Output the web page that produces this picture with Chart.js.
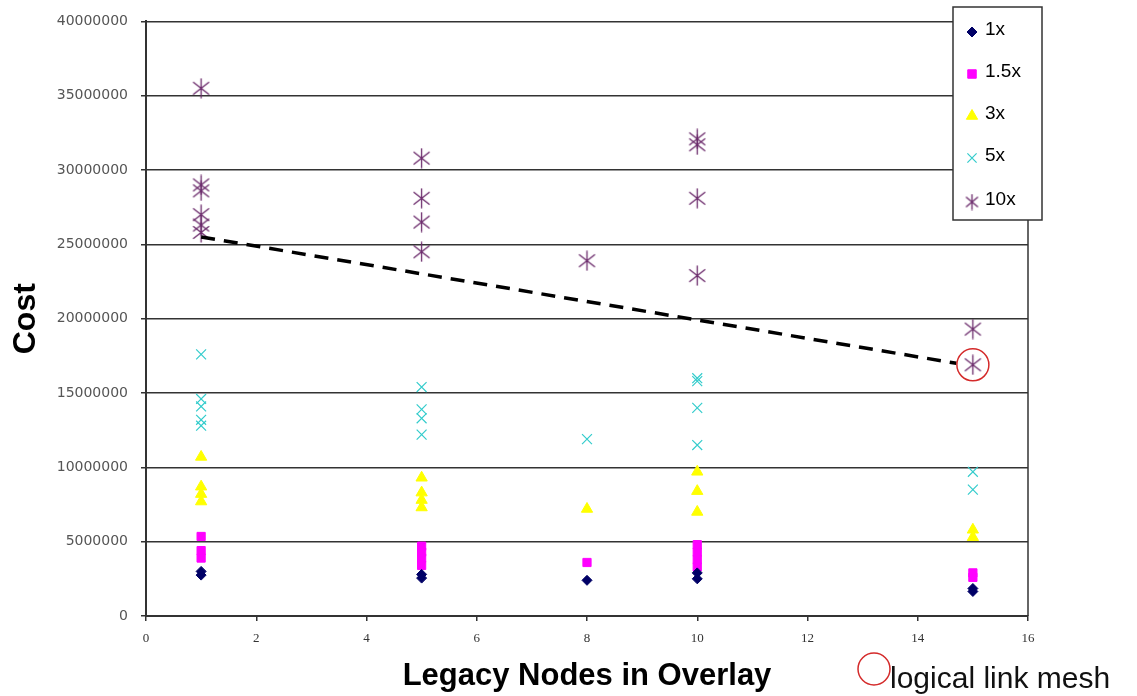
<!DOCTYPE html>
<html><head><meta charset="utf-8">
<script src="https://cdn.jsdelivr.net/npm/chart.js@4.4.0/dist/chart.umd.min.js"></script>
<style>html,body{margin:0;padding:0;background:#fff;}</style>
</head><body>
<canvas id="c" width="1137" height="696" style="width:1137px;height:696px;display:block"></canvas>
<script>
// ---- data ----
const seriesNames = ['1x', '1.5x', '3x', '5x', '10x'];
const xTickLabels = ['0','2','4','6','8','10','12','14','16'];
const yTickLabels = ['0','5000000','10000000','15000000','20000000','25000000','30000000','35000000','40000000'];

const x1 = [1, 1, 5, 5, 8, 10, 10, 15, 15];
const y1 = [3.0e6, 2.75e6, 2.8e6, 2.55e6, 2.4e6, 2.9e6, 2.5e6, 1.85e6, 1.65e6];

const x15 = [1, 1, 1, 5, 5, 5, 5, 8, 10, 10, 10, 10, 15, 15];
const y15 = [5.35e6, 4.4e6, 3.9e6, 4.7e6, 4.3e6, 3.9e6, 3.4e6, 3.6e6, 4.8e6, 4.3e6, 3.8e6, 3.3e6, 2.9e6, 2.6e6];

const x3 = [1, 1, 1, 1, 5, 5, 5, 5, 8, 10, 10, 10, 15, 15];
const y3 = [10.7e6, 8.7e6, 8.2e6, 7.7e6, 9.3e6, 8.3e6, 7.8e6, 7.3e6, 7.2e6, 9.7e6, 8.4e6, 7.0e6, 5.8e6, 5.3e6];

const x5 = [1, 1, 1, 1, 1, 5, 5, 5, 5, 8, 10, 10, 10, 10, 15, 15];
const y5 = [17.6e6, 14.6e6, 14.1e6, 13.2e6, 12.8e6, 15.4e6, 13.9e6, 13.3e6, 12.2e6, 11.9e6, 16.0e6, 15.8e6, 14.0e6, 11.5e6, 9.7e6, 8.5e6];

const x10 = [1, 1, 1, 1, 1, 1, 5, 5, 5, 5, 8, 10, 10, 10, 10, 15, 15];
const y10 = [35.5e6, 29.0e6, 28.6e6, 27.0e6, 26.3e6, 25.8e6, 30.8e6, 28.1e6, 26.5e6, 24.5e6, 23.9e6, 32.1e6, 31.7e6, 28.1e6, 22.9e6, 19.3e6, 16.9e6];

const trendX = [1, 14.7];
const trendY = [25.5e6, 17.0e6];

const circledX = [15];
const circledY = [16.9e6];

const noteText = 'logical link mesh';

// ---- helpers ----
const pts = (xs, ys) => xs.map((x, i) => ({x: x, y: ys[i]}));

function asterisk(w, h, color, lw) {
  const c = document.createElement('canvas');
  c.width = w; c.height = h;
  const g = c.getContext('2d');
  g.strokeStyle = color; g.lineWidth = lw; g.lineCap = 'butt';
  g.beginPath();
  g.moveTo(w / 2, 0.5); g.lineTo(w / 2, h - 0.5);
  g.moveTo(1.5, h * 0.2); g.lineTo(w - 1.5, h * 0.8);
  g.moveTo(w - 1.5, h * 0.2); g.lineTo(1.5, h * 0.8);
  g.stroke();
  return c;
}
const starBig = asterisk(19, 21, '#6b2a6b', 1.3);
const starSmall = asterisk(15, 17, '#6b2a6b', 1.3);

const styles = [
  {pointStyle: 'rectRot', radius: 5, fill: '#000066', stroke: '#000066', bw: 1, lr: 5, ls: 'rectRot'},
  {pointStyle: 'rect', radius: 5.8, fill: '#ff00ff', stroke: '#ff00ff', bw: 1, lr: 6, ls: 'rect'},
  {pointStyle: 'triangle', radius: 6.5, fill: '#ffff00', stroke: '#ffff00', bw: 1, lr: 6.5, ls: 'triangle'},
  {pointStyle: 'crossRot', radius: 7, fill: 'rgba(0,0,0,0)', stroke: '#33cccc', bw: 1.2, lr: 6.5, ls: 'crossRot'},
  {pointStyle: starBig, radius: 10, fill: 'rgba(0,0,0,0)', stroke: '#6b2a6b', bw: 1.2, lr: 8, ls: starSmall}
];
const seriesData = [pts(x1, y1), pts(x15, y15), pts(x3, y3), pts(x5, y5), pts(x10, y10)];

const datasets = seriesNames.map((name, i) => ({
  label: name,
  data: seriesData[i],
  pointStyle: styles[i].pointStyle,
  pointRadius: styles[i].radius,
  pointBackgroundColor: styles[i].fill,
  pointBorderColor: styles[i].stroke,
  pointBorderWidth: styles[i].bw,
  showLine: false
}));

datasets.unshift({
  label: 'trend',
  data: pts(trendX, trendY),
  showLine: true,
  borderColor: '#000',
  borderWidth: 3.5,
  borderDash: [14, 9],
  pointRadius: 0,
  fill: false
});
datasets.unshift({
  label: 'circled',
  data: pts(circledX, circledY),
  showLine: false,
  pointStyle: 'circle',
  pointRadius: 16,
  pointBackgroundColor: 'rgba(0,0,0,0)',
  pointBorderColor: '#d42a2a',
  pointBorderWidth: 1.5
});

const overlay = {
  id: 'overlay',
  afterDraw(chart) {
    const ctx = chart.ctx;
    const ca = chart.chartArea;
    ctx.save();
    // right border of plot
    ctx.strokeStyle = '#333';
    ctx.lineWidth = 1.5;
    ctx.beginPath();
    ctx.moveTo(ca.right, ca.top);
    ctx.lineTo(ca.right, ca.bottom);
    ctx.stroke();
    // legend box
    const lx = 953, ly = 7, lw = 89, lh = 213;
    ctx.fillStyle = '#fff';
    ctx.fillRect(lx, ly, lw, lh);
    ctx.strokeStyle = '#333';
    ctx.lineWidth = 1.5;
    ctx.strokeRect(lx, ly, lw, lh);
    const rowY = [30, 72, 114, 156, 200];
    seriesNames.forEach((name, i) => {
      const s = styles[i];
      ctx.fillStyle = s.fill;
      ctx.strokeStyle = s.stroke;
      ctx.lineWidth = s.bw;
      Chart.helpers.drawPoint(ctx, {pointStyle: s.ls, radius: s.lr, rotation: 0, borderWidth: s.bw}, 972, rowY[i] + 2);
      ctx.fillStyle = '#000';
      ctx.font = '19px "Liberation Sans", Arial, sans-serif';
      ctx.textAlign = 'left';
      ctx.textBaseline = 'middle';
      ctx.fillText(name, 985, rowY[i]);
    });
    // bottom note
    ctx.strokeStyle = '#d42a2a';
    ctx.lineWidth = 1.5;
    ctx.beginPath();
    ctx.arc(874, 669, 16, 0, Math.PI * 2);
    ctx.stroke();
    ctx.fillStyle = '#111';
    ctx.font = '30px "Liberation Sans", Arial, sans-serif';
    ctx.textAlign = 'left';
    ctx.textBaseline = 'alphabetic';
    ctx.fillText(noteText, 890, 688);
    ctx.restore();
  }
};

new Chart(document.getElementById('c'), {
  type: 'scatter',
  data: {datasets: datasets},
  options: {
    responsive: false,
    animation: false,
    devicePixelRatio: 1,
    layout: {padding: {left: 0, right: 109, top: 20, bottom: 0}},
    plugins: {legend: {display: false}, tooltip: {enabled: false}},
    scales: {
      x: {
        type: 'linear', min: 0, max: 16,
        afterFit(s) { s.height = 80; },
        ticks: {stepSize: 2, padding: 10, color: '#333',
          font: {family: '"Liberation Serif", serif', size: 13},
          callback: (v) => xTickLabels[Math.round(v / 2)]},
        grid: {drawOnChartArea: false, drawTicks: true, tickLength: 5, color: '#333', lineWidth: 1.5},
        border: {display: true, color: '#333', width: 2},
        title: {display: true, text: 'Legacy Nodes in Overlay', color: '#000',
          font: {family: '"Liberation Sans", Arial, sans-serif', size: 31, weight: 'bold'},
          padding: {top: 0, bottom: 1}}
      },
      y: {
        type: 'linear', min: 0, max: 40000000,
        afterFit(s) { s.width = 146; },
        ticks: {stepSize: 5000000, padding: 13, color: '#555',
          font: {family: '"DejaVu Sans", sans-serif', size: 14},
          callback: (v) => yTickLabels[Math.round(v / 5000000)]},
        grid: {drawTicks: true, tickLength: 5, color: '#333', lineWidth: 1.5},
        border: {display: true, color: '#333', width: 2},
        title: {display: true, text: 'Cost', color: '#000',
          font: {family: '"Liberation Sans", Arial, sans-serif', size: 32, weight: 'bold'},
          padding: {top: 7, bottom: 0}}
      }
    }
  },
  plugins: [overlay]
});
</script>
</body></html>
